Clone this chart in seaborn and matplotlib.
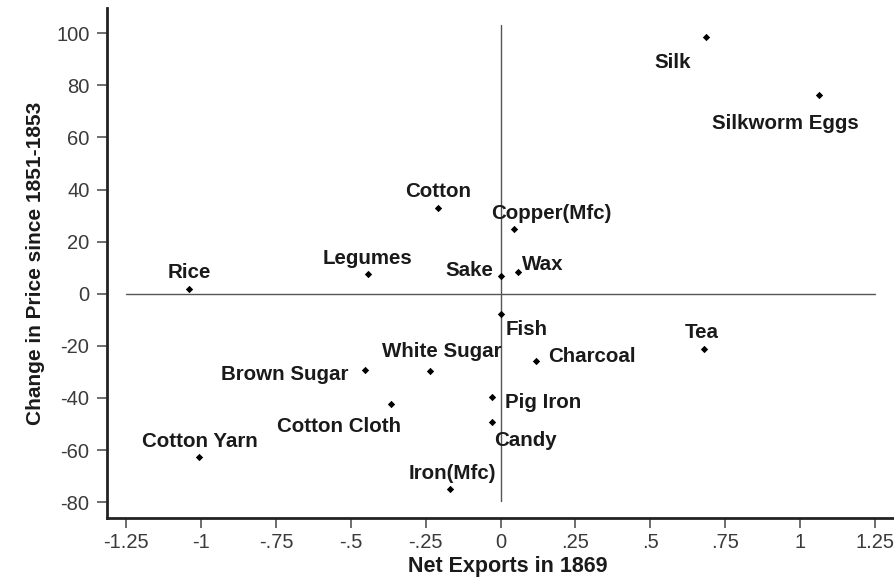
import matplotlib
matplotlib.use("Agg")
import matplotlib.pyplot as plt
import pandas as pd
import seaborn as sns

# values
goods = [
    "Silk", "Silkworm Eggs", "Copper(Mfc)", "Wax", "Sake", "Cotton",
    "Legumes", "Rice", "Brown Sugar", "White Sugar", "Cotton Cloth",
    "Cotton Yarn", "Iron(Mfc)", "Fish", "Charcoal", "Tea", "Pig Iron", "Candy",
]
net_exports = [
    0.686, 1.065, 0.045, 0.058, 0.0, -0.21,
    -0.444, -1.041, -0.452, -0.236, -0.365,
    -1.008, -0.17, 0.002, 0.117, 0.68, -0.028, -0.028,
]
price_change = [
    98.5, 76.2, 24.9, 8.2, 7.0, 33.0,
    7.6, 2.0, -29.2, -29.6, -42.3,
    -62.8, -75.0, -7.8, -25.8, -21.2, -39.5, -49.1,
]
x_ticks = [-1.25, -1, -0.75, -0.5, -0.25, 0, 0.25, 0.5, 0.75, 1, 1.25]
x_tick_labels = ["-1.25", "-1", "-.75", "-.5", "-.25", "0", ".25", ".5", ".75", "1", "1.25"]
y_ticks = [-80, -60, -40, -20, 0, 20, 40, 60, 80, 100]

df = pd.DataFrame({"good": goods, "x": net_exports, "y": price_change})

sns.set_style("ticks")
plt.rcParams["font.family"] = ["Liberation Sans", "DejaVu Sans"]
plt.rcParams["axes.unicode_minus"] = False

fig = plt.figure(figsize=(8.95, 5.8), dpi=100)
ax = fig.add_axes([0.1201, 0.1069, 0.8777, 0.8793])

# reference lines through the origin
ax.plot([-1.25, 1.25], [0, 0], color="#555555", lw=1.0, zorder=1)
ax.plot([0, 0], [-79.5, 103.2], color="#555555", lw=1.0, zorder=1)

sns.scatterplot(data=df, x="x", y="y", ax=ax, marker="D", s=14,
                color="black", edgecolor="black", linewidth=0, zorder=3)

# marker label placement (offset pixels, horizontal alignment)
label_pos = {
    "Silk": (-15, -23, "right"),
    "Silkworm Eggs": (-34, -26, "center"),
    "Copper(Mfc)": (-23, 17, "left"),
    "Wax": (4, 10, "left"),
    "Sake": (-7, 7, "right"),
    "Cotton": (0, 18, "center"),
    "Legumes": (0, 17, "center"),
    "Rice": (0, 18, "center"),
    "Brown Sugar": (-17, -3, "right"),
    "White Sugar": (12, 21, "center"),
    "Cotton Cloth": (-52, -21, "center"),
    "Cotton Yarn": (1, 18, "center"),
    "Iron(Mfc)": (3, 18, "center"),
    "Fish": (5, -13, "left"),
    "Charcoal": (13, 6, "left"),
    "Tea": (-2, 18, "center"),
    "Pig Iron": (13, -4, "left"),
    "Candy": (2, -17, "left"),
}
for _, row in df.iterrows():
    dx, dy, ha = label_pos[row["good"]]
    ax.annotate(row["good"], (row["x"], row["y"]), xytext=(dx, dy),
                textcoords="offset pixels", ha=ha, va="center_baseline",
                fontsize=14.8, fontweight="bold", color="#1a1a1a")

ax.set_xlim(-1.3127, 1.311)
ax.set_ylim(-86.1, 109.7)
ax.set_xticks(x_ticks)
ax.set_xticklabels(x_tick_labels)
ax.set_yticks(y_ticks)
ax.tick_params(axis="both", labelsize=14.5, labelcolor="#3a3a3a",
               color="#555555", length=7, width=1.2, pad=4)
ax.tick_params(axis="y", pad=6)

sns.despine(ax=ax)
for side in ["left", "bottom"]:
    ax.spines[side].set_linewidth(2)
    ax.spines[side].set_color("#222222")

ax.set_xlabel("Net Exports in 1869", fontsize=15.5, fontweight="bold",
              color="#1a1a1a", labelpad=4)
ax.xaxis.set_label_coords(0.51, -0.075)
ax.set_ylabel("Change in Price since 1851-1853", fontsize=15,
              fontweight="bold", color="#1a1a1a", labelpad=8)

fig.savefig("out.png", dpi=100)
